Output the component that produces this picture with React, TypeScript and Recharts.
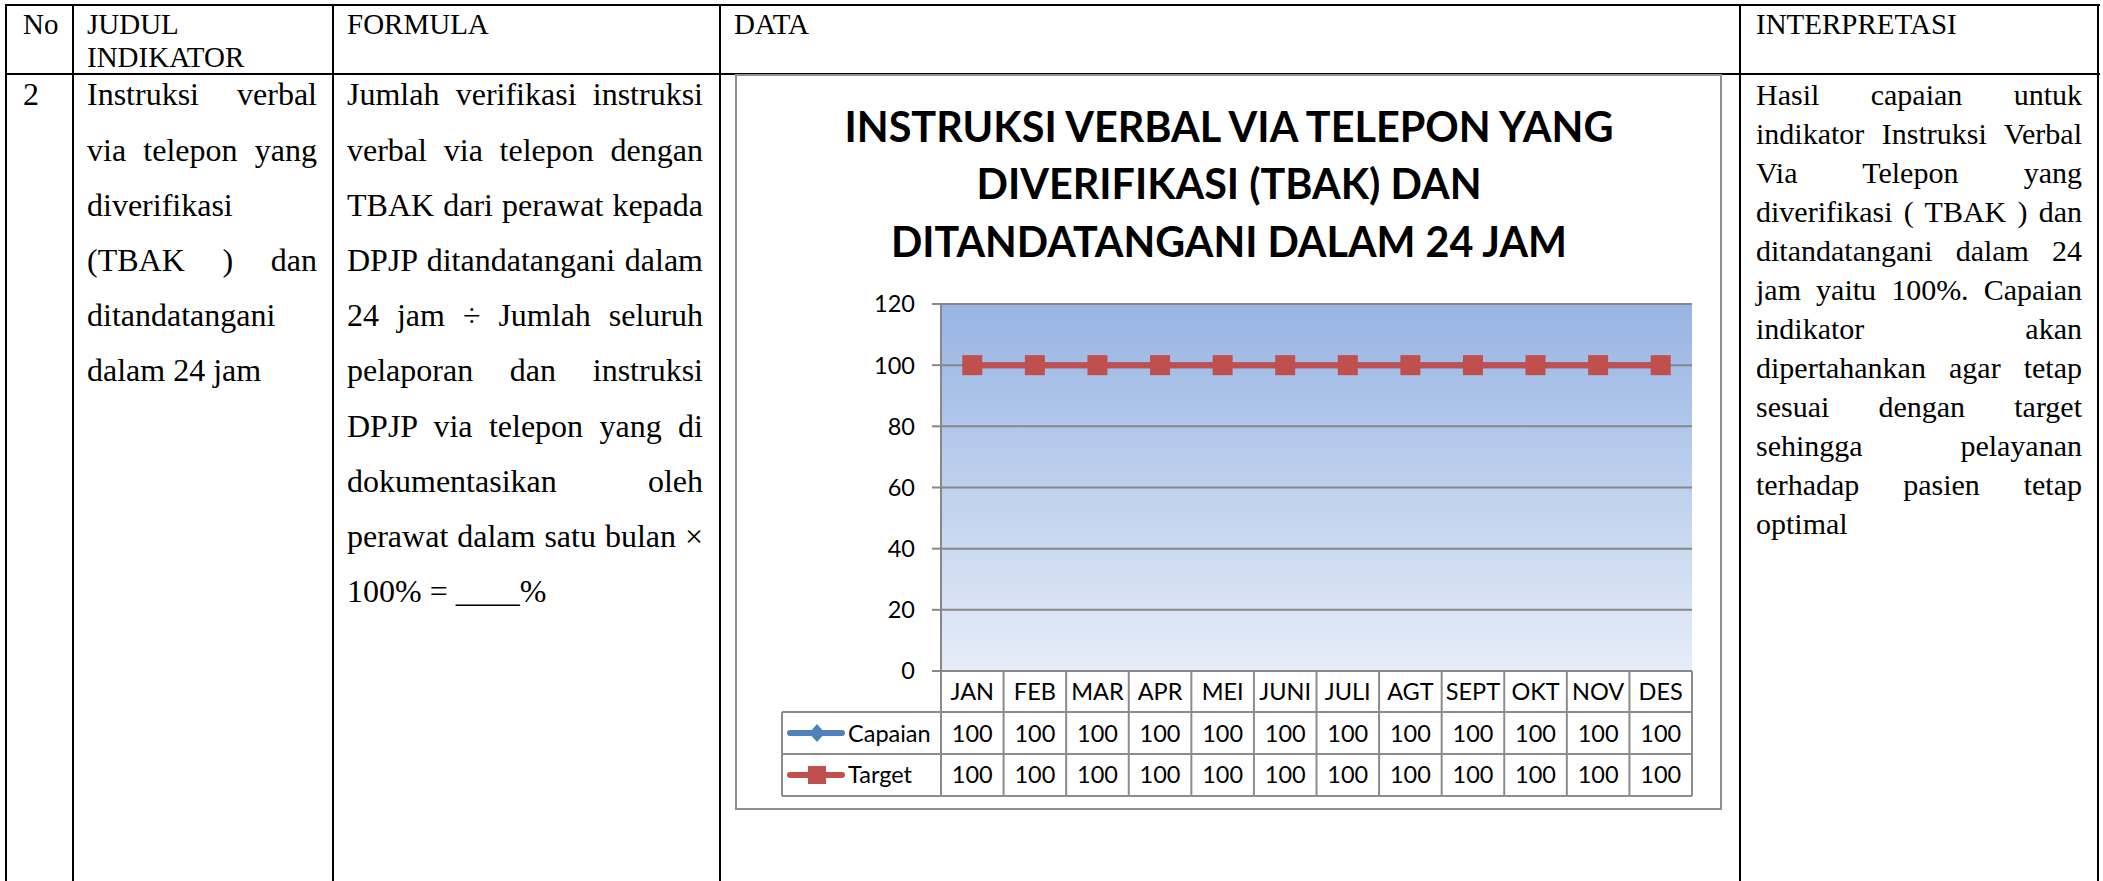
import { LineChart, Line, XAxis, YAxis, CartesianGrid } from 'recharts';

// chart data
const months = ['JAN', 'FEB', 'MAR', 'APR', 'MEI', 'JUNI', 'JULI', 'AGT', 'SEPT', 'OKT', 'NOV', 'DES'];
const capaian = [100, 100, 100, 100, 100, 100, 100, 100, 100, 100, 100, 100];
const target = [100, 100, 100, 100, 100, 100, 100, 100, 100, 100, 100, 100];
const yTicks = [0, 20, 40, 60, 80, 100, 120];
const seriesNames = ['Capaian', 'Target'];
const titleLines = ['INSTRUKSI VERBAL VIA TELEPON YANG', 'DIVERIFIKASI (TBAK) DAN', 'DITANDATANGANI DALAM 24 JAM'];

// table text
const headers = ['No', 'JUDUL\nINDIKATOR', 'FORMULA', 'DATA', 'INTERPRETASI'];
const rowNo = '2';
const judulLines = ['Instruksi verbal', 'via telepon yang', 'diverifikasi', '(TBAK ) dan', 'ditandatangani', 'dalam 24 jam'];
const formulaLines = [
    'Jumlah verifikasi instruksi',
    'verbal via telepon dengan',
    'TBAK dari perawat kepada',
    'DPJP ditandatangani dalam',
    '24 jam ÷ Jumlah seluruh',
    'pelaporan dan instruksi',
    'DPJP via telepon yang di',
    'dokumentasikan oleh',
    'perawat dalam satu bulan ×',
    '100% = ____%',
];
const interpLines = [
    'Hasil capaian untuk',
    'indikator Instruksi Verbal',
    'Via Telepon yang',
    'diverifikasi ( TBAK ) dan',
    'ditandatangani dalam 24',
    'jam yaitu 100%. Capaian',
    'indikator akan',
    'dipertahankan agar tetap',
    'sesuai dengan target',
    'sehingga pelayanan',
    'terhadap pasien tetap',
    'optimal',
];

const data = months.map((m, i) => ({ month: m, capaian: capaian[i], target: target[i] }));

// layout
const COLS = [6, 73, 333, 720, 1740, 2098];
const BOX_X = 736;
const BOX_Y = 75;
const BOX_W = 985;
const BOX_H = 734;
const PLOT_W = 751;
const BAND = PLOT_W / months.length;
const TITLE_W = [769, 505, 676];
const GRID = '#878787';
const CELL = '#8c8c8c';
const BLUE = '#4F81BD';
const RED = '#C0504D';
const SERIF = '"Liberation Serif", "Times New Roman", serif';
const SANS = 'Lato, "Open Sans", sans-serif';

function diamondPath(cx: number, cy: number, r: number) {
    return `M${cx},${cy - r}L${cx + r * 0.9},${cy}L${cx},${cy + r}L${cx - r * 0.9},${cy}Z`;
}

const DiamondDot = (p: any) => {
    if (p.cx == null || p.cy == null) return <g key={`d-${p.index}`} />;
    return <path key={`d-${p.index}`} d={diamondPath(p.cx, p.cy, 10)} fill={BLUE} />;
};

const SquareDot = (p: any) => {
    if (p.cx == null || p.cy == null) return <g key={`s-${p.index}`} />;
    return <rect key={`s-${p.index}`} x={p.cx - 10} y={p.cy - 10} width={20} height={20} fill={RED} />;
};

// x axis ticks draw the data table under the plot
function TableTick(props: any) {
    const { x, y, payload } = props;
    const i = props.index ?? payload.index;
    const left = x - BAND / 2;
    const right = x + BAND / 2;
    const r1 = y + 41;
    const r2 = y + 83;
    const r3 = y + 125;
    const txt = { fontFamily: SANS, fontSize: 23.5, fill: '#000', textAnchor: 'middle' as const };
    const lx = left - 159;
    return (
        <g>
            <line x1={left} y1={y} x2={left} y2={r3} stroke={CELL} strokeWidth={2} />
            {i === months.length - 1 && <line x1={right} y1={y} x2={right} y2={r3} stroke={CELL} strokeWidth={2} />}
            <line x1={left} y1={r1} x2={right} y2={r1} stroke={CELL} strokeWidth={2} />
            <line x1={left} y1={r2} x2={right} y2={r2} stroke={CELL} strokeWidth={2} />
            <line x1={left} y1={r3} x2={right} y2={r3} stroke={CELL} strokeWidth={2} />
            <text x={x} y={y + 29} {...txt}>{payload.value}</text>
            <text x={x} y={y + 70.5} {...txt}>{capaian[i]}</text>
            <text x={x} y={y + 112} {...txt}>{target[i]}</text>
            {i === 0 && (
                <g>
                    <line x1={lx} y1={r1} x2={lx} y2={r3} stroke={CELL} strokeWidth={2} />
                    <line x1={lx} y1={r1} x2={left} y2={r1} stroke={CELL} strokeWidth={2} />
                    <line x1={lx} y1={r2} x2={left} y2={r2} stroke={CELL} strokeWidth={2} />
                    <line x1={lx} y1={r3} x2={left} y2={r3} stroke={CELL} strokeWidth={2} />
                    <line x1={lx + 8} y1={y + 62} x2={lx + 60} y2={y + 62} stroke={BLUE} strokeWidth={6} strokeLinecap="round" />
                    <path d={diamondPath(lx + 35, y + 62, 9)} fill={BLUE} />
                    <text x={lx + 66} y={y + 70.5} fontFamily={SANS} fontSize={23.5} fill="#000">{seriesNames[0]}</text>
                    <line x1={lx + 8} y1={y + 104} x2={lx + 60} y2={y + 104} stroke={RED} strokeWidth={6} strokeLinecap="round" />
                    <rect x={lx + 26} y={y + 95} width={18} height={18} fill={RED} />
                    <text x={lx + 66} y={y + 112} fontFamily={SANS} fontSize={23.5} fill="#000">{seriesNames[1]}</text>
                </g>
            )}
        </g>
    );
}

function Lines({ lines, left, top, width, fontSize, lineHeight }: { lines: string[]; left: number; top: number; width: number; fontSize: number; lineHeight: number }) {
    return (
        <div style={{ position: 'absolute', left, top, width, fontFamily: SERIF, fontSize, lineHeight: `${lineHeight}px`, color: '#000' }}>
            {lines.map((l, i) => (
                <div key={i} style={{ textAlign: 'justify', textAlignLast: i === lines.length - 1 ? 'left' : 'justify' }}>
                    {l}
                </div>
            ))}
        </div>
    );
}

export default function App() {
    const head = { position: 'absolute' as const, top: 7.7, fontFamily: SERIF, fontSize: 29, lineHeight: '33px', color: '#000' };
    return (
        <div style={{ position: 'absolute', left: 0, top: 0, width: 2103, height: 881, overflow: 'hidden', background: '#fff' }}>
            {/* table borders */}
            <div style={{ position: 'absolute', left: 5, top: 4, width: 2095, height: 2, background: '#000' }} />
            <div style={{ position: 'absolute', left: 5, top: 73, width: 2095, height: 2, background: '#000' }} />
            {COLS.map((c, i) => (
                <div key={i} style={{ position: 'absolute', left: c - 1, top: 4, width: 2, height: 877, background: '#000' }} />
            ))}

            {/* header row */}
            <div style={{ ...head, left: 23 }}>{headers[0]}</div>
            <div style={{ ...head, left: 87, whiteSpace: 'pre' }}>{headers[1]}</div>
            <div style={{ ...head, left: 347 }}>{headers[2]}</div>
            <div style={{ ...head, left: 734 }}>{headers[3]}</div>
            <div style={{ ...head, left: 1756 }}>{headers[4]}</div>

            {/* body row */}
            <Lines lines={[rowNo]} left={23} top={67.3} width={40} fontSize={32} lineHeight={55.2} />
            <Lines lines={judulLines} left={87} top={67.3} width={230} fontSize={32} lineHeight={55.2} />
            <Lines lines={formulaLines} left={347} top={67.3} width={356} fontSize={32} lineHeight={55.2} />
            <Lines lines={interpLines} left={1756} top={75} width={326} fontSize={30} lineHeight={39} />

            {/* chart box */}
            <div style={{ position: 'absolute', left: BOX_X - 1, top: BOX_Y - 1, width: BOX_W + 2, height: BOX_H + 2, border: '2px solid #909090', boxSizing: 'border-box' }} />
            <svg width={BOX_W} height={220} style={{ position: 'absolute', left: BOX_X, top: BOX_Y }}>
                {titleLines.map((t, i) => (
                    <text
                        key={i}
                        x={493}
                        y={66.5 + i * 57.6}
                        textAnchor="middle"
                        textLength={TITLE_W[i]}
                        lengthAdjust="spacingAndGlyphs"
                        fontFamily={SANS}
                        fontWeight={700}
                        fontSize={42}
                        fill="#000"
                    >
                        {t}
                    </text>
                ))}
            </svg>
            <div style={{ position: 'absolute', left: BOX_X, top: BOX_Y }}>
                <LineChart width={BOX_W} height={BOX_H} data={data} margin={{ top: 229, right: 29, bottom: 0, left: 0 }}>
                    <defs>
                        <linearGradient id="plotBg" x1="0" y1="0" x2="0" y2="1">
                            <stop offset="0%" stopColor="#97B4E3" />
                            <stop offset="100%" stopColor="#E6EDF8" />
                        </linearGradient>
                    </defs>
                    <CartesianGrid vertical={false} stroke={GRID} strokeWidth={2} fill="url(#plotBg)" />
                    <XAxis
                        dataKey="month"
                        height={138}
                        interval={0}
                        padding={{ left: BAND / 2, right: BAND / 2 }}
                        axisLine={false}
                        tickLine={false}
                        tickSize={0}
                        tickMargin={0}
                        tick={<TableTick />}
                    />
                    <YAxis
                        width={205}
                        domain={[0, 120]}
                        ticks={yTicks}
                        interval={0}
                        axisLine={{ stroke: GRID, strokeWidth: 2 }}
                        tickLine={{ stroke: GRID, strokeWidth: 2 }}
                        tickSize={9}
                        tickMargin={17}
                        tick={{ fontFamily: SANS, fontSize: 23.5, fill: '#000' }}
                    />
                    <Line dataKey="capaian" name={seriesNames[0]} stroke={BLUE} strokeWidth={6} dot={DiamondDot} isAnimationActive={false} />
                    <Line dataKey="target" name={seriesNames[1]} stroke={RED} strokeWidth={6} dot={SquareDot} isAnimationActive={false} />
                </LineChart>
            </div>
        </div>
    );
}
